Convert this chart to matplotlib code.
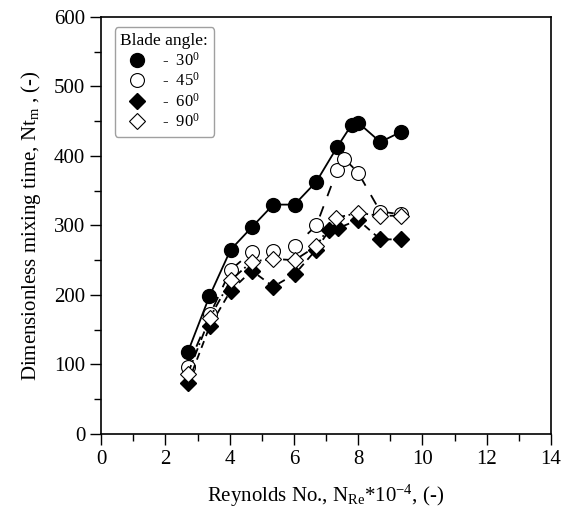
import matplotlib
matplotlib.use('Agg')
import matplotlib.pyplot as plt
from matplotlib.lines import Line2D
from matplotlib.ticker import MultipleLocator

plt.rcParams['font.family'] = 'Liberation Serif'
plt.rcParams['mathtext.fontset'] = 'custom'
plt.rcParams['mathtext.rm'] = 'Liberation Serif'
plt.rcParams['mathtext.it'] = 'Liberation Serif:italic'

# Blade angle series, Reynolds No. * 1e-4 vs dimensionless mixing time
re_30 = [2.7, 3.37, 4.03, 4.7, 5.36, 6.02, 6.7, 7.35, 7.8, 8.0, 8.69, 9.35]
nt_30 = [118, 198, 265, 298, 330, 330, 363, 413, 445, 448, 420, 435]

re_45 = [2.7, 3.4, 4.03, 4.69, 5.36, 6.02, 6.7, 7.35, 7.57, 8.0, 8.69, 9.35]
nt_45 = [97, 173, 236, 262, 263, 270, 300, 380, 396, 376, 320, 316]

re_60 = [2.7, 3.38, 4.03, 4.69, 5.36, 6.03, 6.69, 7.1, 7.37, 8.0, 8.69, 9.35]
nt_60 = [73, 155, 206, 235, 212, 230, 265, 293, 296, 308, 280, 280]

re_90 = [2.7, 3.38, 4.03, 4.69, 5.36, 6.02, 6.69, 7.3, 8.0, 8.69, 9.35]
nt_90 = [87, 167, 221, 248, 252, 250, 270, 311, 318, 314, 314]

labels = ['-  30$^0$', '-  45$^0$', '-  60$^0$', '-  90$^0$']

fig = plt.figure(figsize=(5.65, 5.13), dpi=100)
ax = fig.add_axes([0.179, 0.154, 0.796, 0.813])

styles = [
    dict(ls='-', marker='o', ms=10, mfc='black', mew=1.0),
    dict(ls=(0, (6, 6)), marker='o', ms=10, mfc='white', mew=0.8),
    dict(ls=(0, (4, 3)), marker='D', ms=8, mfc='black', mew=1.0),
    dict(ls=(0, (5, 2, 1, 2)), marker='D', ms=8, mfc='white', mew=0.8),
]
series = [(re_30, nt_30), (re_45, nt_45), (re_60, nt_60), (re_90, nt_90)]

handles = []
for (x, y), st, lab in zip(series, styles, labels):
    ax.plot(x, y, color='black', lw=1.3, mec='black', **st)
    h = dict(st)
    h['ls'] = 'none'
    handles.append(Line2D([], [], color='black', mec='black', label=lab, **h))

ax.set_xlim(0, 14)
ax.set_ylim(0, 600)
ax.xaxis.set_major_locator(MultipleLocator(2))
ax.xaxis.set_minor_locator(MultipleLocator(1))
ax.yaxis.set_major_locator(MultipleLocator(100))
ax.yaxis.set_minor_locator(MultipleLocator(50))
ax.tick_params(which='major', direction='out', length=8, width=1, labelsize=15)
ax.tick_params(which='minor', direction='out', length=5, width=1)
ax.tick_params(top=False, right=False)
for s in ax.spines.values():
    s.set_linewidth(1.2)

ax.set_xlabel('Reynolds No., N$_{\\mathrm{Re}}$*10$^{-4}$, (-)', fontsize=15, labelpad=10)
ax.set_ylabel('Dimensionless mixing time, Nt$_{\\mathrm{m}}$ , (-)', fontsize=15, labelpad=8)

leg = ax.legend(handles=handles, title='Blade angle:', loc='upper left',
                bbox_to_anchor=(0.03, 0.975), borderaxespad=0, fontsize=12,
                title_fontsize=12.5, frameon=True, fancybox=True,
                edgecolor='#888888', handlelength=1.0, handletextpad=1.0,
                labelspacing=0.15, borderpad=0.35)
leg.get_frame().set_linewidth(1.0)

fig.savefig('out.png', dpi=100)
